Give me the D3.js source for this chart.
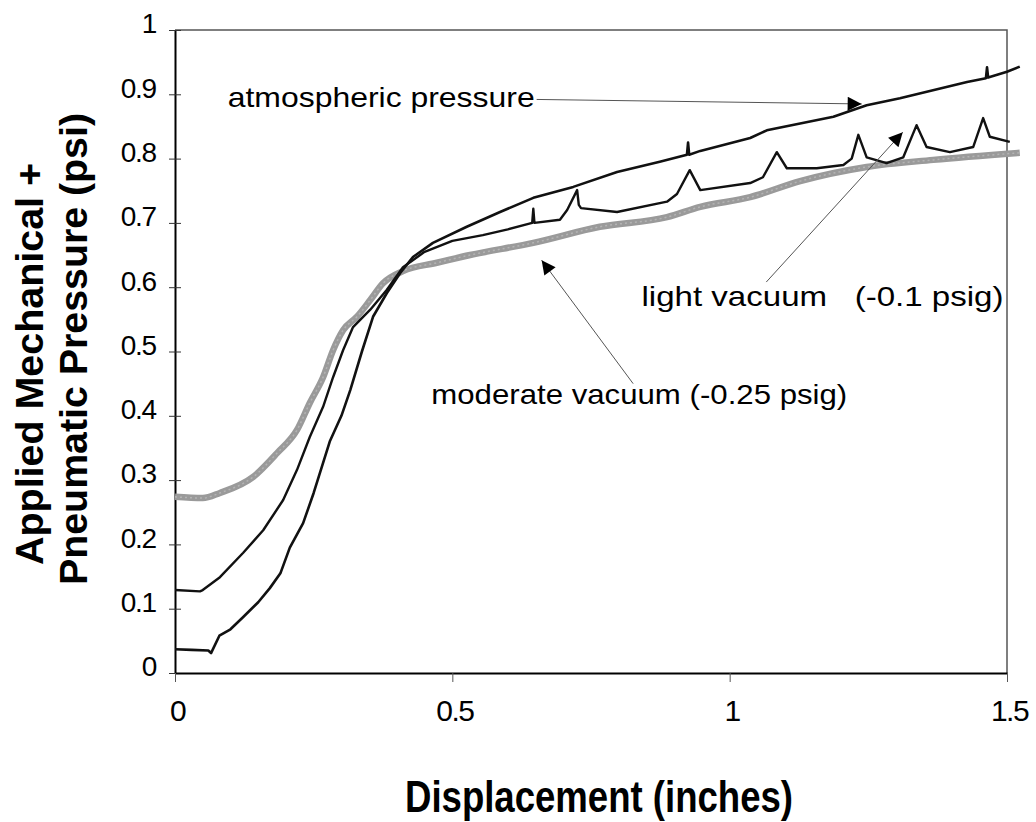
<!DOCTYPE html>
<html>
<head>
<meta charset="utf-8">
<script src="https://cdn.jsdelivr.net/npm/d3@7"></script>
<style>
  body { margin: 0; background: #fff; }
  svg { display: block; font-family: "Liberation Sans", Arial, sans-serif; }
</style>
</head>
<body>
<svg id="chart" width="1036" height="822"></svg>
<script>
// values: [displacement (in), pressure (psi)]
const atmospheric = [
  [0, .037], [.03, .036], [.06, .035], [.065, .031], [.08, .058], [.10, .068], [.123, .087],
  [.15, .11], [.171, .132], [.19, .155], [.207, .195], [.231, .233], [.25, .28], [.279, .36],
  [.30, .40], [.316, .44], [.337, .50], [.357, .554], [.382, .591], [.406, .622], [.429, .647],
  [.465, .669], [.526, .694], [.586, .717], [.646, .739], [.718, .756], [.797, .779],
  [.874, .795], [.923, .806], [.925, .825], [.927, .806], [.947, .812], [1.037, .832],
  [1.067, .844], [1.187, .865], [1.247, .883], [1.307, .894], [1.428, .919], [1.462, .925],
  [1.464, .942], [1.466, .926], [1.5, .935], [1.523, .943]
];

const lightVacuum = [
  [0, .129], [.045, .127], [.05, .129], [.081, .149], [.123, .187], [.159, .222], [.195, .269],
  [.220, .316], [.243, .367], [.267, .414], [.285, .460], [.303, .502], [.321, .538],
  [.352, .565], [.382, .596], [.411, .631], [.45, .655], [.50, .672], [.555, .681], [.60, .690],
  [.644, .700], [.646, .722], [.648, .700], [.694, .705], [.707, .72], [.725, .751], [.728, .728],
  [.732, .723], [.797, .717], [.887, .733], [.905, .745], [.928, .782], [.947, .751],
  [1.037, .762], [1.06, .771], [1.085, .810], [1.103, .785], [1.157, .785], [1.205, .790],
  [1.22, .80], [1.232, .837], [1.247, .802], [1.283, .793], [1.313, .802], [1.337, .852],
  [1.355, .818], [1.397, .810], [1.439, .818], [1.457, .863], [1.469, .834], [1.505, .826]
];

const moderateVacuum = [
  [0, .274], [.05, .272], [.081, .28], [.141, .305], [.184, .342], [.220, .378], [.243, .420],
  [.267, .460], [.285, .502], [.303, .533], [.328, .554], [.352, .580], [.375, .606],
  [.411, .625], [.472, .638], [.532, .650], [.646, .669], [.766, .694], [.887, .709],
  [.947, .725], [1.037, .740], [1.127, .765], [1.247, .787], [1.367, .798], [1.523, .809]
];

const yTicks = [0, .1, .2, .3, .4, .5, .6, .7, .8, .9, 1];
const xTicks = [0, .5, 1, 1.5];

// callouts: label, text position, arrow from -> to (data units)
const callouts = [
  { text: "atmospheric pressure", at: [.095, .88], len: 307, from: [.652, .892], to: [1.238, .885] },
  { text: "light vacuum   (-0.1 psig)", at: [.841, .57], len: 362, from: [1.066, .608], to: [1.312, .841] },
  { text: "moderate vacuum (-0.25 psig)", at: [.462, .418], len: 416, from: [.826, .45], to: [.661, .642] }
];

const svg = d3.select("#chart");
const x = d3.scaleLinear().domain([0, 1.5]).range([175, 1007]);
const y = d3.scaleLinear().domain([0, 1]).range([673, 30]);

svg.append("defs").append("marker")
  .attr("id", "head")
  .attr("viewBox", "0 0 10 10")
  .attr("refX", 10).attr("refY", 5)
  .attr("markerWidth", 17).attr("markerHeight", 14)
  .attr("markerUnits", "userSpaceOnUse")
  .attr("orient", "auto")
  .append("path")
  .attr("d", "M0,0L10,5L0,10Z")
  .attr("fill", "#000");

// frame top + right
svg.append("path")
  .attr("d", `M${x(0)},${y(1)}H${x(1.5)}V${y(0)}`)
  .attr("fill", "none")
  .attr("stroke", "#555")
  .attr("stroke-width", 1.5);

// y axis
const yAxis = svg.append("g")
  .attr("transform", `translate(${x(0)},0)`)
  .call(d3.axisLeft(y).tickValues(yTicks).tickSize(6).tickSizeOuter(0).tickPadding(13)
    .tickFormat(d => d3.format("")(+d.toFixed(1))));
yAxis.select(".domain").attr("stroke-width", 2);
yAxis.selectAll(".tick line").attr("x1", 6).attr("x2", -6).attr("stroke", "#333");
yAxis.selectAll(".tick text")
  .attr("font-size", 28)
  .attr("font-family", "Liberation Sans, Arial, sans-serif")
  .attr("letter-spacing", -1.2)
  .attr("dy", "0.1em")
  .attr("fill", "#000");

// x axis
const xAxis = svg.append("g")
  .attr("transform", `translate(0,${y(0)})`)
  .call(d3.axisBottom(x).tickValues(xTicks).tickSize(9).tickSizeOuter(0).tickPadding(18)
    .tickFormat(d => String(d)));
xAxis.select(".domain").attr("stroke-width", 2);
xAxis.selectAll(".tick line").attr("stroke", "#555");
xAxis.selectAll(".tick text")
  .attr("font-size", 30)
  .attr("font-family", "Liberation Sans, Arial, sans-serif")
  .attr("letter-spacing", -1.5)
  .attr("dx", 2)
  .attr("fill", "#000");

// sharp peaks on the black traces, smooth band for the grey one
const line = d3.line().x(d => x(d[0])).y(d => y(d[1]));
const smooth = d3.line().x(d => x(d[0])).y(d => y(d[1])).curve(d3.curveMonotoneX);

svg.append("path")
  .datum(moderateVacuum)
  .attr("d", smooth)
  .attr("fill", "none")
  .attr("stroke", "#9a9a9a")
  .attr("stroke-width", 6.5)
  .attr("stroke-linejoin", "round");

svg.append("path")
  .datum(moderateVacuum)
  .attr("d", smooth)
  .attr("fill", "none")
  .attr("stroke", "#b4b4b4")
  .attr("stroke-width", 1.5)
  .attr("stroke-dasharray", "2 3");

svg.append("path")
  .datum(lightVacuum)
  .attr("d", line)
  .attr("fill", "none")
  .attr("stroke", "#111")
  .attr("stroke-width", 2.4)
  .attr("stroke-linejoin", "round");

svg.append("path")
  .datum(atmospheric)
  .attr("d", line)
  .attr("fill", "none")
  .attr("stroke", "#111")
  .attr("stroke-width", 2.6)
  .attr("stroke-linejoin", "round");

// callout arrows + labels
const notes = svg.append("g");
notes.selectAll("line")
  .data(callouts)
  .join("line")
  .attr("x1", d => x(d.from[0])).attr("y1", d => y(d.from[1]))
  .attr("x2", d => x(d.to[0])).attr("y2", d => y(d.to[1]))
  .attr("stroke", "#555")
  .attr("stroke-width", 1)
  .attr("marker-end", "url(#head)");

notes.selectAll("text")
  .data(callouts)
  .join("text")
  .attr("x", d => x(d.at[0]))
  .attr("y", d => y(d.at[1]))
  .attr("font-size", 28)
  .attr("textLength", d => d.len)
  .attr("lengthAdjust", "spacingAndGlyphs")
  .attr("xml:space", "preserve")
  .style("white-space", "pre")
  .text(d => d.text);

// axis titles
svg.append("text")
  .attr("transform", "translate(43,565) rotate(-90)")
  .attr("font-size", 39)
  .attr("font-weight", "bold")
  .attr("textLength", 402)
  .attr("lengthAdjust", "spacingAndGlyphs")
  .text("Applied Mechanical +");

svg.append("text")
  .attr("transform", "translate(87,585) rotate(-90)")
  .attr("font-size", 39)
  .attr("font-weight", "bold")
  .attr("textLength", 472)
  .attr("lengthAdjust", "spacingAndGlyphs")
  .text("Pneumatic Pressure (psi)");

svg.append("text")
  .attr("x", 405)
  .attr("y", 812)
  .attr("font-size", 45)
  .attr("font-weight", "bold")
  .attr("textLength", 388)
  .attr("lengthAdjust", "spacingAndGlyphs")
  .text("Displacement (inches)");
</script>
</body>
</html>
